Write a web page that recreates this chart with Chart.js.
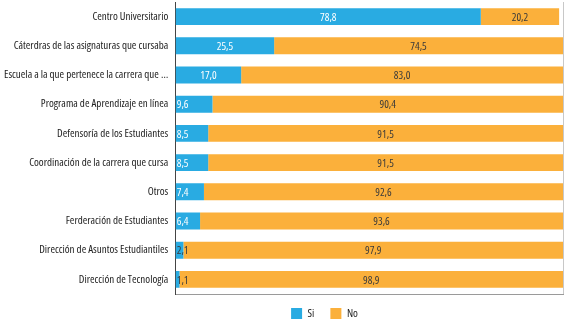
<!DOCTYPE html>
<html>
<head>
<meta charset="utf-8">
<script src="https://cdn.jsdelivr.net/npm/chart.js@4.4.1/dist/chart.umd.min.js"></script>
<style>
  html, body { margin: 0; padding: 0; background: #fff; }
  #wrap { width: 586px; height: 326px; }
</style>
</head>
<body>
<div id="wrap"><canvas id="chart"></canvas></div>
<script>
// datos (porcentaje)
const categories = [
    'Centro Universitario',
    'Cáterdras de las asignaturas que cursaba',
    'Escuela a la que pertenece la carrera que …',
    'Programa de Aprendizaje en línea',
    'Defensoría de los Estudiantes',
    'Coordinación de la carrera que cursa',
    'Otros',
    'Ferderación de Estudiantes',
    'Dirección de Asuntos Estudiantiles',
    'Dirección de Tecnología'
];
const siValues = [78.8, 25.5, 17.0, 9.6, 8.5, 8.5, 7.4, 6.4, 2.1, 1.1];
const noValues = [20.2, 74.5, 83.0, 90.4, 91.5, 91.5, 92.6, 93.6, 97.9, 98.9];
const seriesNames = ['Si', 'No'];

// Open Sans en version condensada (la fuente original es estrecha)
const FONT = "'Open Sans', sans-serif";
const STRETCH = 'condensed';

// etiquetas de valor dentro de las barras
const barLabels = {
    id: 'barLabels',
    afterDatasetsDraw(chart) {
        const ctx = chart.ctx;
        ctx.save();
        ctx.font = 'semi-condensed 11px ' + FONT;
        ctx.textBaseline = 'middle';
        chart.data.datasets.forEach((ds, di) => {
            const meta = chart.getDatasetMeta(di);
            meta.data.forEach((bar, i) => {
                const txt = ds.data[i].toFixed(1).replace('.', ',');
                const tw = ctx.measureText(txt).width;
                const left = Math.min(bar.base, bar.x);
                const w = Math.abs(bar.x - bar.base);
                let x, align;
                if (w < tw * 3.5) { x = left + 1; align = 'left'; }
                else { x = left + w / 2; align = 'center'; }
                ctx.textAlign = align;
                ctx.fillStyle = (di === 0 && tw + 2 <= w) ? '#ffffff' : '#3a3a3a';
                ctx.fillText(txt, x, bar.y + 1);
            });
        });
        ctx.restore();
    }
};

// mover la leyenda un poco, como en el original
const legendShift = {
    id: 'legendShift',
    afterLayout(chart) {
        const lg = chart.legend;
        lg.left += 42;
        lg.right += 42;
        lg.top -= 2;
        lg.bottom -= 2;
    }
};

new Chart(document.getElementById('chart'), {
    type: 'bar',
    data: {
        labels: categories,
        datasets: [{
            label: seriesNames[0],
            data: siValues,
            backgroundColor: '#29abe2',
            categoryPercentage: 1,
            barPercentage: 0.58
        }, {
            label: seriesNames[1],
            data: noValues,
            backgroundColor: '#fbb03b',
            categoryPercentage: 1,
            barPercentage: 0.58
        }]
    },
    options: {
        indexAxis: 'y',
        responsive: true,
        maintainAspectRatio: false,
        animation: false,
        layout: { padding: { top: 2, right: 23, bottom: 1, left: 2 } },
        scales: {
            x: {
                stacked: true,
                min: 0,
                max: 100,
                ticks: { display: false, stepSize: 100 },
                grid: {
                    drawTicks: false,
                    color: (c) => c.tick && c.tick.value === 100 ? '#c8c8c8' : 'rgba(0,0,0,0)'
                },
                border: { color: '#9a9a9a', width: 1 }
            },
            y: {
                stacked: true,
                grid: { display: false, drawTicks: false },
                border: { color: '#444', width: 1 },
                ticks: {
                    color: '#222',
                    padding: 7,
                    font: { family: FONT, size: 11, weight: STRETCH }
                },
                afterFit(scale) {
                    scale.width -= 5;
                    scale.paddingTop = 0;
                    scale.paddingBottom = 0;
                }
            }
        },
        plugins: {
            legend: {
                position: 'bottom',
                maxHeight: 31,
                labels: {
                    boxWidth: 11,
                    boxHeight: 11,
                    padding: 16,
                    color: '#222',
                    font: { family: FONT, size: 11, weight: STRETCH }
                }
            },
            tooltip: { enabled: false }
        }
    },
    plugins: [barLabels, legendShift]
});
</script>
</body>
</html>
